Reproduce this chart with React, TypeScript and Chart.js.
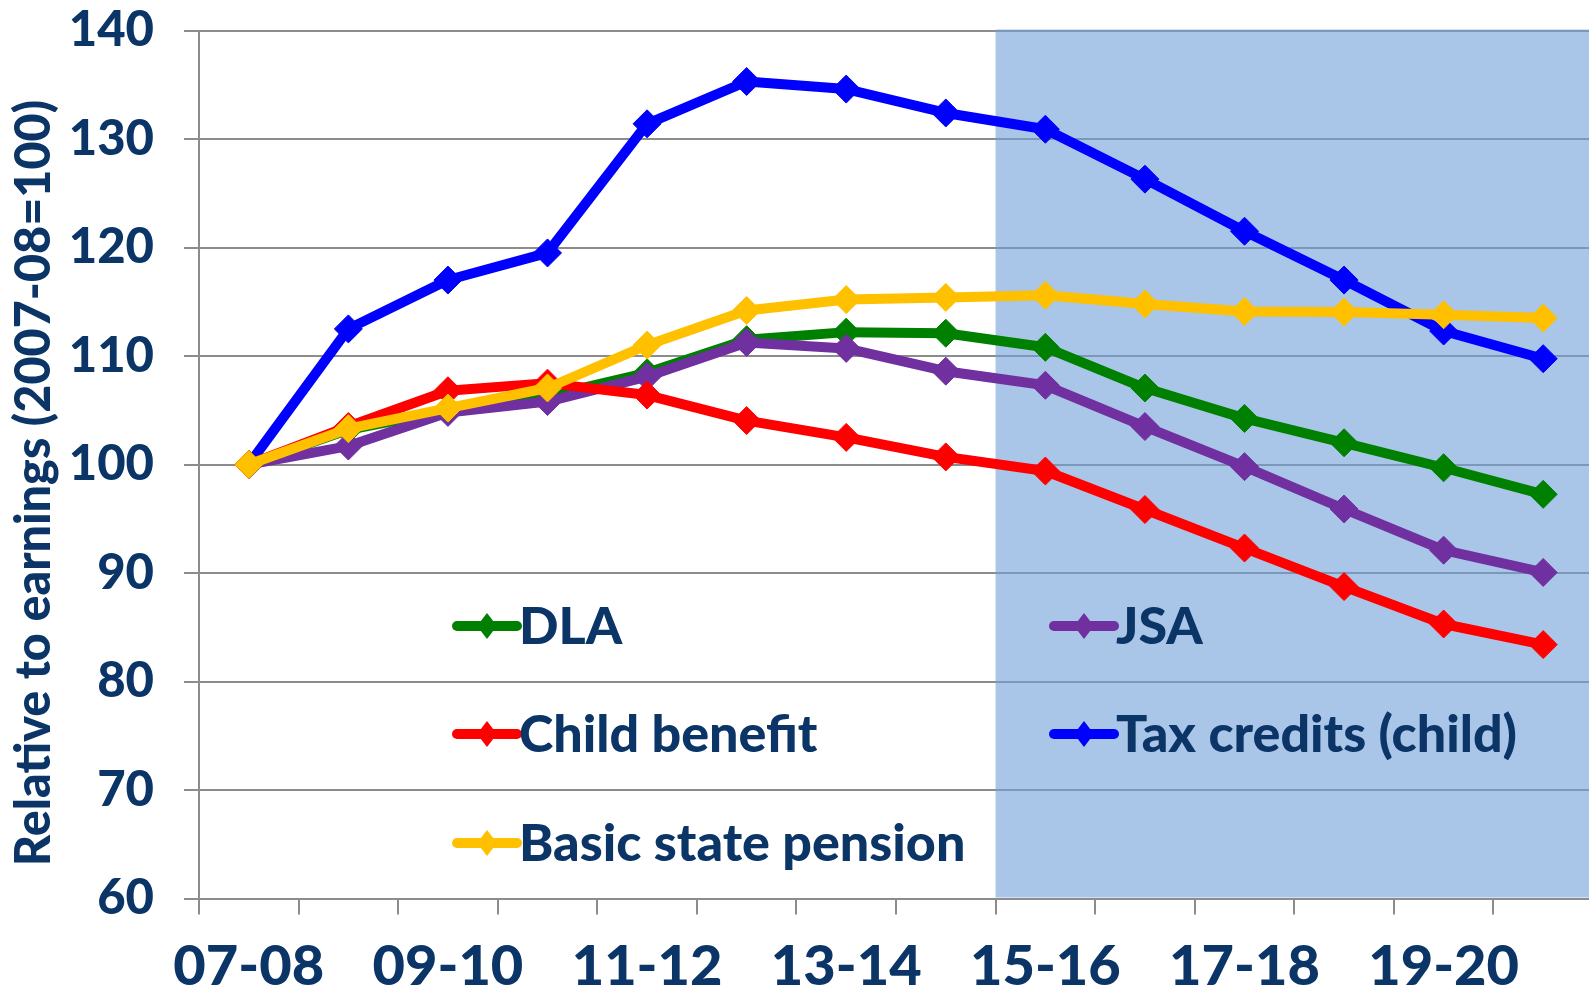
import React, { useEffect, useRef } from 'react';
import { Chart, registerables } from 'chart.js';

Chart.register(...registerables);

// ---------- data ----------
const categories = ['07-08', '08-09', '09-10', '10-11', '11-12', '12-13', '13-14', '14-15', '15-16', '16-17', '17-18', '18-19', '19-20', '20-21'];
const dla = [100, 103.2, 105.0, 106.3, 108.45, 111.5, 112.2, 112.1, 110.8, 107.05, 104.25, 102.0, 99.7, 97.25];
const jsa = [100, 101.7, 104.8, 105.8, 108.1, 111.25, 110.7, 108.6, 107.3, 103.5, 99.8, 95.9, 92.1, 90.05];
const childBenefit = [100, 103.5, 106.8, 107.5, 106.4, 104.05, 102.5, 100.7, 99.4, 95.85, 92.3, 88.75, 85.3, 83.4];
const taxCredits = [100, 112.5, 117.0, 119.5, 131.4, 135.3, 134.6, 132.4, 130.9, 126.3, 121.5, 117.0, 112.3, 109.75];
const statePension = [100, 103.3, 105.2, 107.05, 111.0, 114.2, 115.2, 115.4, 115.6, 114.8, 114.1, 114.05, 113.8, 113.5];
const forecastStart = '15-16';
const yMin = 60;
const yMax = 140;
const yStep = 10;
const yTitle = 'Relative to earnings (2007-08=100)';

// ---------- styles ----------
const NAVY = '#0b3566';
const FONT = 'Lato, "Open Sans", sans-serif';
const WEIGHT = '900';
const GRID = '#8c8c8c';

const series = [
  { label: 'DLA', data: dla, color: '#008000', order: 3 },
  { label: 'JSA', data: jsa, color: '#7030a0', order: 2 },
  { label: 'Child benefit', data: childBenefit, color: '#ff0000', order: 1 },
  { label: 'Tax credits (child)', data: taxCredits, color: '#0000ff', order: 4 },
  { label: 'Basic state pension', data: statePension, color: '#ffc000', order: 0 },
];

const legendCols = [457, 1054];
const legendRows = [626, 734, 843];

const shadePlugin = {
  id: 'shade',
  beforeDatasetsDraw(chart: any) {
    const { ctx, chartArea, scales } = chart;
    const xs = scales.x;
    const idx = categories.indexOf(forecastStart);
    const x = (xs.getPixelForValue(idx - 1) + xs.getPixelForValue(idx)) / 2;
    ctx.save();
    ctx.fillStyle = 'rgba(112,158,217,0.6)';
    ctx.fillRect(x, chartArea.top - 1, chartArea.right - x, chartArea.bottom - chartArea.top);
    ctx.restore();
  },
};

const decorPlugin = {
  id: 'decor',
  afterDraw(chart: any) {
    const { ctx } = chart;
    ctx.save();
    // y-axis title
    ctx.translate(34, 483);
    ctx.rotate(-Math.PI / 2);
    ctx.fillStyle = NAVY;
    ctx.font = `${WEIGHT} 48.5px ${FONT}`;
    ctx.textAlign = 'center';
    ctx.textBaseline = 'middle';
    ctx.fillText(yTitle, 0, 0);
    ctx.restore();

    // legend
    ctx.save();
    series.forEach((s, i) => {
      const x = legendCols[i % 2];
      const y = legendRows[Math.floor(i / 2)];
      ctx.strokeStyle = s.color;
      ctx.lineWidth = 10;
      ctx.lineCap = 'round';
      ctx.beginPath();
      ctx.moveTo(x, y);
      ctx.lineTo(x + 60, y);
      ctx.stroke();
      ctx.fillStyle = s.color;
      ctx.beginPath();
      const cx = x + 30;
      ctx.moveTo(cx, y - 13);
      ctx.lineTo(cx + 10, y);
      ctx.lineTo(cx, y + 13);
      ctx.lineTo(cx - 10, y);
      ctx.closePath();
      ctx.fill();
      ctx.fillStyle = NAVY;
      ctx.font = `${WEIGHT} 52px ${FONT}`;
      ctx.textAlign = 'left';
      ctx.textBaseline = 'alphabetic';
      ctx.fillText(s.label, x + 62, y + 18);
    });
    ctx.restore();
  },
};

export default function App() {
  const ref = useRef<HTMLCanvasElement>(null);

  useEffect(() => {
    const canvas = ref.current!;
    const chart = new Chart(canvas, {
      type: 'line',
      data: {
        labels: categories,
        datasets: series.map((s) => ({
          label: s.label,
          data: s.data,
          borderColor: s.color,
          backgroundColor: s.color,
          pointBackgroundColor: s.color,
          pointBorderColor: s.color,
          pointStyle: 'rectRot',
          pointRadius: 14,
          pointBorderWidth: 1,
          borderWidth: 10,
          borderJoinStyle: 'round',
          borderCapStyle: 'round',
          tension: 0,
          order: s.order,
          fill: false,
        })),
      },
      options: {
        responsive: false,
        animation: false,
        devicePixelRatio: 1,
        events: [],
        layout: { autoPadding: false, padding: { top: 30.5, left: 0, right: 0, bottom: 0 } },
        plugins: {
          legend: { display: false },
          tooltip: { enabled: false },
          title: { display: false },
        },
        scales: {
          x: {
            type: 'category',
            offset: true,
            grid: {
              display: true,
              offset: true,
              drawOnChartArea: false,
              drawTicks: true,
              tickLength: 16,
              color: GRID,
              lineWidth: 2,
            },
            border: { display: true, color: GRID, width: 2 },
            ticks: {
              autoSkip: false,
              maxRotation: 0,
              minRotation: 0,
              padding: 19,
              color: NAVY,
              font: { family: FONT, size: 56, weight: WEIGHT },
              callback: (_v: any, i: number) => (i % 2 === 0 ? categories[i] : ''),
            },
            afterFit: (scale: any) => {
              scale.height = 91.5;
              scale.paddingLeft = 0;
              scale.paddingRight = 0;
            },
          },
          y: {
            min: yMin,
            max: yMax,
            grid: {
              color: GRID,
              lineWidth: 2,
              drawTicks: true,
              tickLength: 15,
            },
            border: { display: true, color: GRID, width: 2 },
            ticks: {
              stepSize: yStep,
              padding: 30,
              color: NAVY,
              font: { family: FONT, size: 49, weight: WEIGHT },
            },
            afterFit: (scale: any) => {
              scale.width = 199;
              scale.paddingTop = 0;
              scale.paddingBottom = 0;
            },
          },
        },
      },
      plugins: [shadePlugin, decorPlugin],
    });
    return () => chart.destroy();
  }, []);

  return (
    <div style={{ position: 'fixed', left: 0, top: 0, width: 1589, height: 990, overflow: 'hidden', background: '#fff' }}>
      <canvas ref={ref} width={1593} height={990} style={{ display: 'block' }} />
    </div>
  );
}
